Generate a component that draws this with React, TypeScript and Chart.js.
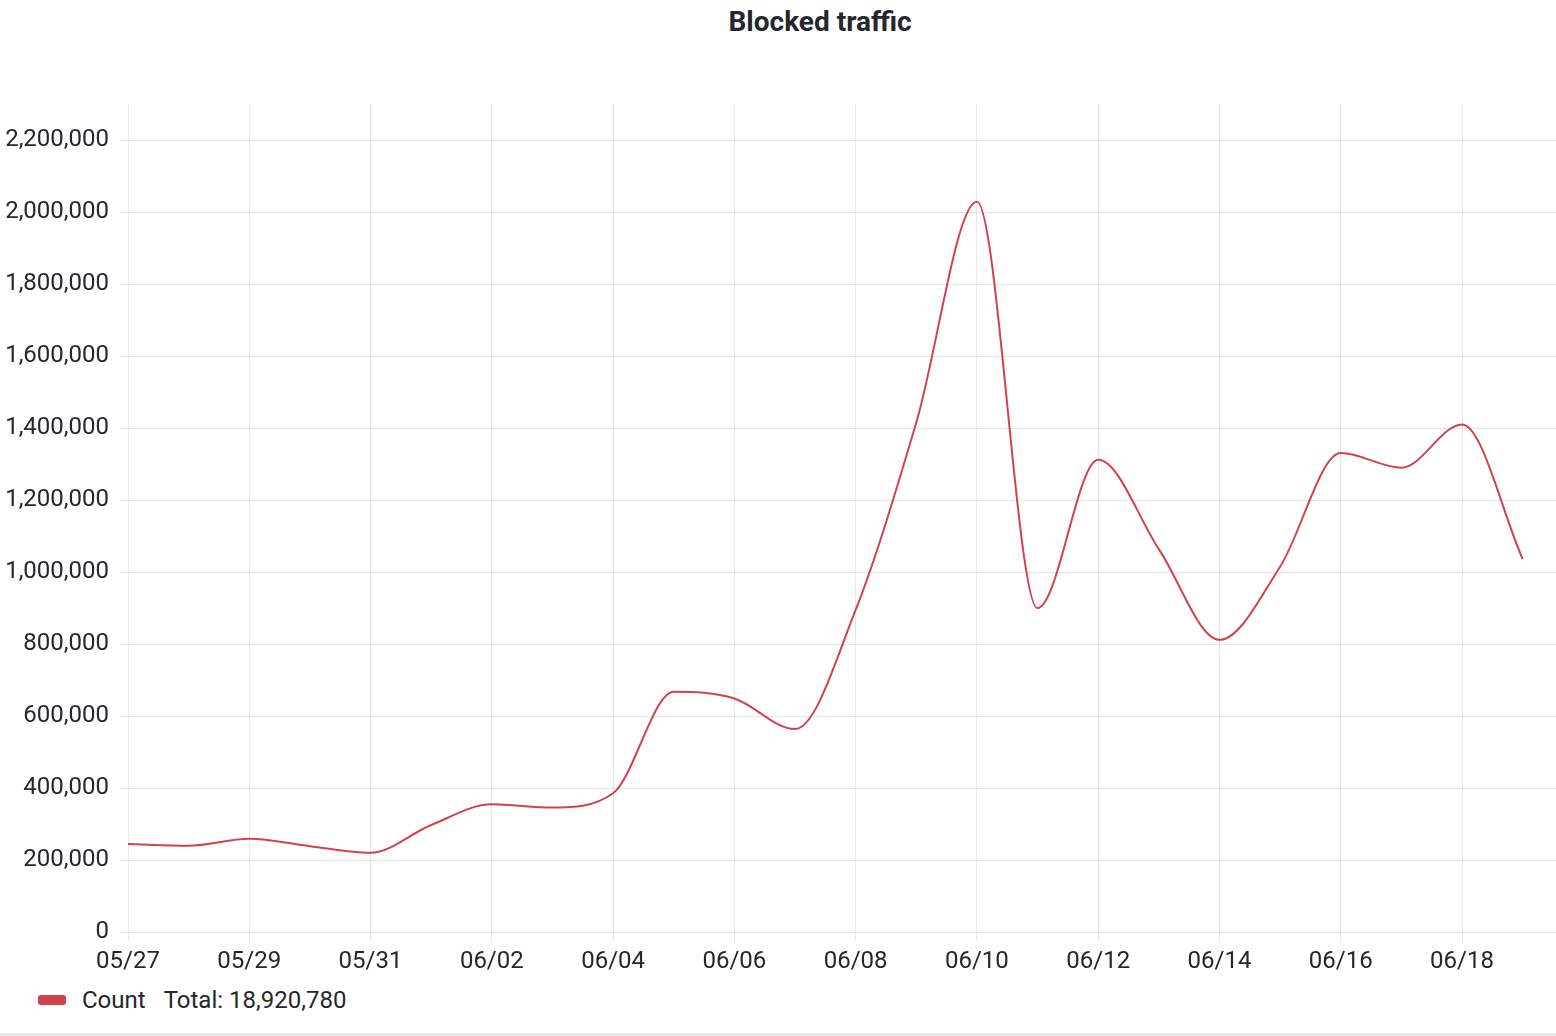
import React, { useEffect, useRef } from "react";
import { Chart, registerables } from "chart.js";

Chart.register(...registerables);

const dateLabels = [
  "05/27", "05/28", "05/29", "05/30", "05/31", "06/01", "06/02", "06/03",
  "06/04", "06/05", "06/06", "06/07", "06/08", "06/09", "06/10", "06/11",
  "06/12", "06/13", "06/14", "06/15", "06/16", "06/17", "06/18", "06/19",
];

const counts = [
  244700, 240000, 259500, 239000, 220500, 297700, 355000, 346000,
  386000, 667600, 649000, 564000, 895000, 1415000, 2028700, 900000,
  1312000, 1064000, 812000, 1015000, 1330500, 1290000, 1410000, 1037000,
];

// indices of the labelled days on the x axis (every second day)
const xTickIndices = [0, 2, 4, 6, 8, 10, 12, 14, 16, 18, 20, 22];
const yTickValues = [
  0, 200000, 400000, 600000, 800000, 1000000, 1200000,
  1400000, 1600000, 1800000, 2000000, 2200000,
];

const seriesName = "Count";
const totalText = "Total: 18,920,780";
const chartTitle = "Blocked traffic";

const yMax = 2300000;
const xMax = 23.55;

const LINE_COLOR = "#d0434e";
const TEXT_COLOR = "#25272c";
const GRID_COLOR = "#e6e6e6";
const FONT = "Roboto";

export default function App() {
  const canvasRef = useRef<HTMLCanvasElement | null>(null);

  useEffect(() => {
    const canvas = canvasRef.current;
    if (!canvas) return;
    const chart = new Chart(canvas, {
      type: "line",
      data: {
        datasets: [
          {
            label: seriesName,
            data: counts.map((v, i) => ({ x: i, y: v })),
            borderColor: LINE_COLOR,
            backgroundColor: LINE_COLOR,
            borderWidth: 2,
            pointRadius: 0,
            pointHoverRadius: 0,
            cubicInterpolationMode: "monotone",
            fill: false,
          },
        ],
      },
      options: {
        animation: false,
        responsive: false,
        devicePixelRatio: 1,
        layout: { padding: { top: 104, left: 0, right: 0, bottom: 0 } },
        plugins: {
          legend: { display: false },
          tooltip: { enabled: false },
          title: { display: false },
        },
        scales: {
          x: {
            type: "linear",
            min: 0,
            max: xMax,
            afterBuildTicks: (axis: any) => {
              axis.ticks = xTickIndices.map((v) => ({ value: v }));
            },
            ticks: {
              autoSkip: false,
              maxRotation: 0,
              padding: 6,
              color: TEXT_COLOR,
              font: { family: FONT, size: 24 },
              callback: (value: any) => dateLabels[Math.round(Number(value))] ?? "",
            },
            grid: { color: GRID_COLOR, tickLength: 9, lineWidth: 1 },
            border: { display: false },
          },
          y: {
            type: "linear",
            min: 0,
            max: yMax,
            afterBuildTicks: (axis: any) => {
              axis.ticks = yTickValues.map((v) => ({ value: v }));
            },
            afterFit: (axis: any) => {
              axis.width = 128;
            },
            ticks: {
              autoSkip: false,
              padding: 11,
              color: TEXT_COLOR,
              font: { family: FONT, size: 24 },
              callback: (value: any) => Number(value).toLocaleString("en-US"),
            },
            grid: { color: GRID_COLOR, tickLength: 8, lineWidth: 1 },
            border: { display: false },
          },
        },
      },
    });
    return () => chart.destroy();
  }, []);

  return (
    <div
      style={{
        position: "absolute",
        left: 0,
        top: 0,
        width: 1556,
        height: 1036,
        background: "#fff",
        fontFamily: FONT,
        overflow: "hidden",
      }}
    >
      <div
        style={{
          position: "absolute",
          left: 620,
          width: 400,
          top: 5,
          height: 34,
          lineHeight: "34px",
          textAlign: "center",
          fontSize: 28,
          fontWeight: "bold",
          color: TEXT_COLOR,
        }}
      >
        {chartTitle}
      </div>
      <canvas
        ref={canvasRef}
        width={1556}
        height={982}
        style={{ position: "absolute", left: 0, top: 0, width: 1556, height: 982 }}
      />
      <div
        style={{
          position: "absolute",
          left: 38,
          top: 985,
          height: 30,
          display: "flex",
          alignItems: "center",
          color: TEXT_COLOR,
          fontSize: 24,
          whiteSpace: "pre",
        }}
      >
        <span
          style={{
            display: "inline-block",
            width: 28,
            height: 10,
            borderRadius: 3,
            background: LINE_COLOR,
            marginRight: 16,
          }}
        />
        <span>{seriesName}</span>
        <span style={{ marginLeft: 18 }}>{totalText}</span>
      </div>
      <div
        style={{
          position: "absolute",
          left: 0,
          top: 1033,
          width: 1556,
          height: 3,
          background: "#e8e8e8",
        }}
      />
    </div>
  );
}
